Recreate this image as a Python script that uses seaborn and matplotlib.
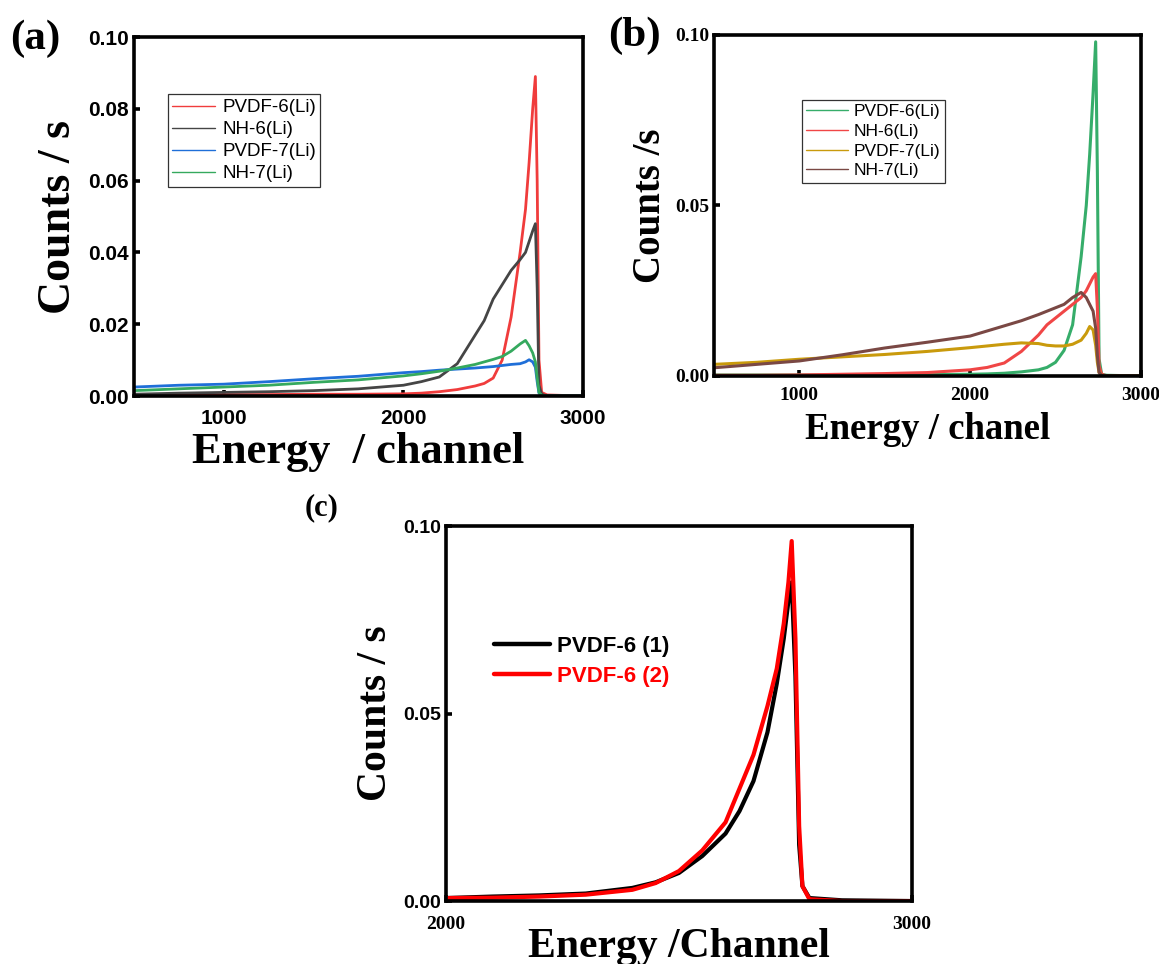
import numpy as np
import pandas as pd
import matplotlib
matplotlib.use("Agg")
import matplotlib.pyplot as plt
import seaborn as sns

# ---- data (channel, counts/s) ----
chan_ab = [500, 750, 1000, 1250, 1500, 1750, 2000, 2100, 2200, 2300, 2400, 2450, 2500,
           2550, 2600, 2650, 2680, 2700, 2720, 2735, 2745, 2755, 2770, 2800, 3000]

# panel (a)
a_pvdf6 = [.0004, .0004, .0004, .0004, .0005, .0005, .0006, .0008, .0012, .0018, .0028, .0035, .005,
           .010, .022, .040, .052, .065, .080, .089, .06, .01, .001, .0003, 0]
a_nh6 = [.0005, .0008, .001, .0012, .0015, .002, .003, .004, .0053, .009, .017, .021, .027,
         .031, .035, .038, .040, .043, .046, .048, .03, .003, .0005, 0, 0]
a_pvdf7 = [.0025, .003, .0033, .004, .0048, .0055, .0065, .0068, .0072, .0075, .0078, .008, .0082,
           .0085, .0088, .009, .0095, .0101, .0095, .008, .004, .0008, .0002, 0, 0]
a_nh7 = [.0015, .002, .0025, .003, .0038, .0045, .0056, .0062, .0069, .0078, .0088, .0095, .0102,
         .011, .0125, .0145, .0155, .014, .012, .0095, .005, .001, .0002, 0, 0]

# panel (b)
b_pvdf6 = [.0003, .0003, .0003, .0003, .0003, .0004, .0005, .0006, .0008, .0012, .0018, .0025, .004,
           .0075, .015, .035, .05, .065, .083, .098, .06, .005, .0005, .0002, 0]
b_nh6 = [.0002, .0002, .0003, .0005, .0007, .001, .0018, .0025, .0038, .0072, .012, .015, .017,
         .019, .021, .023, .025, .027, .029, .030, .02, .003, .0005, 0, 0]
b_pvdf7 = [.0034, .004, .0049, .0056, .0063, .0072, .0083, .0088, .0093, .0097, .0095, .009, .0088,
           .0088, .0093, .0105, .0125, .0145, .0135, .009, .004, .001, .0002, 0, 0]
b_nh7 = [.0024, .0034, .0044, .0062, .0082, .0099, .0117, .0132, .0147, .0162, .018, .019, .020,
         .021, .023, .0245, .023, .021, .019, .014, .006, .001, .0002, 0, 0]

# panel (c)
chan_c = [2000, 2100, 2200, 2300, 2400, 2450, 2500, 2550, 2600, 2630, 2660, 2690, 2710,
          2725, 2735, 2742, 2750, 2758, 2765, 2780, 2850, 3000]
c_run1 = [.0008, .0012, .0015, .002, .0035, .005, .0075, .012, .018, .024, .032, .045, .058,
          .070, .080, .085, .06, .015, .004, .0008, .0002, 0]
c_run2 = [.0008, .0009, .0012, .0017, .003, .0048, .008, .0135, .021, .030, .039, .052, .062,
          .074, .085, .096, .07, .02, .004, .0005, 0, 0]

labels_ab = ["PVDF-6(Li)", "NH-6(Li)", "PVDF-7(Li)", "NH-7(Li)"]
labels_c = ["PVDF-6 (1)", "PVDF-6 (2)"]


def long_df(x, series, names):
    rows = []
    for name, vals in zip(names, series):
        rows.append(pd.DataFrame({"channel": x, "counts": vals, "sample": name}))
    return pd.concat(rows, ignore_index=True)


df_a = long_df(chan_ab, [a_pvdf6, a_nh6, a_pvdf7, a_nh7], labels_ab)
df_b = long_df(chan_ab, [b_pvdf6, b_nh6, b_pvdf7, b_nh7], labels_ab)
df_c = long_df(chan_c, [c_run1, c_run2], labels_c)

pal_a = {"PVDF-6(Li)": "#f03c3c", "NH-6(Li)": "#454545", "PVDF-7(Li)": "#1f6fd8", "NH-7(Li)": "#35a95e"}
pal_b = {"PVDF-6(Li)": "#36ad6a", "NH-6(Li)": "#f04646", "PVDF-7(Li)": "#c99a0c", "NH-7(Li)": "#7a4844"}
pal_c = {"PVDF-6 (1)": "#000000", "PVDF-6 (2)": "#ff0000"}

sns.set_style("ticks")
plt.rcParams['font.family'] = ['Liberation Sans', 'DejaVu Sans']
plt.rcParams.update({"text.color": "black", "axes.labelcolor": "black",
                     "xtick.color": "black", "ytick.color": "black"})
serif = "Liberation Serif"

fig = plt.figure(figsize=(11.59, 9.64), dpi=100)
ax_a = fig.add_axes([0.1156, 0.5892, 0.3874, 0.3724])
ax_b = fig.add_axes([0.6160, 0.6100, 0.3684, 0.3537])
ax_c = fig.add_axes([0.3848, 0.0653, 0.4020, 0.3890])


def frame(ax):
    for s in ax.spines.values():
        s.set_linewidth(2.6)
        s.set_color("black")
    ax.tick_params(direction="in", width=2.6, length=4)


# ---- (a) ----
sns.lineplot(data=df_a, x="channel", y="counts", hue="sample", hue_order=labels_ab,
             palette=pal_a, estimator=None, sort=False, linewidth=2.0, ax=ax_a)
ax_a.set_xlim(500, 3000)
ax_a.set_ylim(0, 0.10)
ax_a.set_xticks([1000, 2000, 3000])
ax_a.set_yticks([0, 0.02, 0.04, 0.06, 0.08, 0.10])
ax_a.set_yticklabels(["0.00", "0.02", "0.04", "0.06", "0.08", "0.10"])
for t in ax_a.get_xticklabels() + ax_a.get_yticklabels():
    t.set_fontweight("bold")
    t.set_fontsize(15)
frame(ax_a)
ax_a.tick_params(axis="x", pad=9)
ax_a.set_xlabel("Energy  / channel", family=serif, fontweight="bold", fontsize=32, labelpad=3)
ax_a.set_ylabel("Counts / s", family=serif, fontweight="bold", fontsize=33, labelpad=6)
leg = ax_a.legend(loc="upper left", bbox_to_anchor=(0.075, 0.84), fontsize=13.5, frameon=True,
                  fancybox=False, edgecolor="black", handlelength=2.3, borderpad=0.25,
                  labelspacing=0.26, handletextpad=0.35, borderaxespad=0)
leg.get_frame().set_linewidth(0.9)
for ln in leg.get_lines():
    ln.set_linewidth(1.0)
fig.text(0.009, 0.96, "(a)", family=serif, fontweight="bold", fontsize=31, va="center")

# ---- (b) ----
sns.lineplot(data=df_b, x="channel", y="counts", hue="sample", hue_order=labels_ab,
             palette=pal_b, estimator=None, sort=False, linewidth=2.2, ax=ax_b)
ax_b.set_xlim(500, 3000)
ax_b.set_ylim(0, 0.10)
ax_b.set_xticks([1000, 2000, 3000])
ax_b.set_yticks([0, 0.05, 0.10])
ax_b.set_yticklabels(["0.00", "0.05", "0.10"])
for t in ax_b.get_xticklabels() + ax_b.get_yticklabels():
    t.set_family(serif)
    t.set_fontweight("bold")
    t.set_fontsize(14)
frame(ax_b)
ax_b.tick_params(axis="x", pad=8)
ax_b.set_xlabel("Energy / chanel", family=serif, fontweight="bold", fontsize=26.5, labelpad=6)
ax_b.set_ylabel("Counts /s", family=serif, fontweight="bold", fontsize=28, labelpad=4)
leg = ax_b.legend(loc="upper left", bbox_to_anchor=(0.206, 0.81), fontsize=12.5, frameon=True,
                  fancybox=False, edgecolor="black", handlelength=2.4, borderpad=0.25,
                  labelspacing=0.26, handletextpad=0.35, borderaxespad=0)
leg.get_frame().set_linewidth(0.9)
for ln in leg.get_lines():
    ln.set_linewidth(1.0)
fig.text(0.525, 0.963, "(b)", family=serif, fontweight="bold", fontsize=31, va="center")

# ---- (c) ----
sns.lineplot(data=df_c, x="channel", y="counts", hue="sample", hue_order=labels_c,
             palette=pal_c, estimator=None, sort=False, linewidth=3.0, ax=ax_c)
ax_c.set_xlim(2000, 3000)
ax_c.set_ylim(0, 0.10)
ax_c.set_xticks([2000, 3000])
ax_c.set_yticks([0, 0.05, 0.10])
ax_c.set_yticklabels(["0.00", "0.05", "0.10"])
for t in ax_c.get_yticklabels():
    t.set_fontweight("bold")
    t.set_fontsize(14)
for t in ax_c.get_xticklabels():
    t.set_family(serif)
    t.set_fontweight("bold")
    t.set_fontsize(14)
frame(ax_c)
ax_c.tick_params(axis="x", pad=11)
ax_c.set_xlabel("Energy /Channel", family=serif, fontweight="bold", fontsize=30, labelpad=-4)
ax_c.set_ylabel("Counts / s", family=serif, fontweight="bold", fontsize=30, labelpad=6)
leg = ax_c.legend(loc="upper left", bbox_to_anchor=(0.085, 0.73), frameon=False,
                  handlelength=2.5, labelspacing=0.4, handletextpad=0.3, borderaxespad=0,
                  prop={"weight": "bold", "size": 16})
for ln in leg.get_lines():
    ln.set_linewidth(3.2)
for txt, col in zip(leg.get_texts(), ["#000000", "#ff0000"]):
    txt.set_color(col)
fig.text(0.263, 0.473, "(c)", family=serif, fontweight="bold", fontsize=22, va="center")

fig.savefig("out.png", dpi=100)
